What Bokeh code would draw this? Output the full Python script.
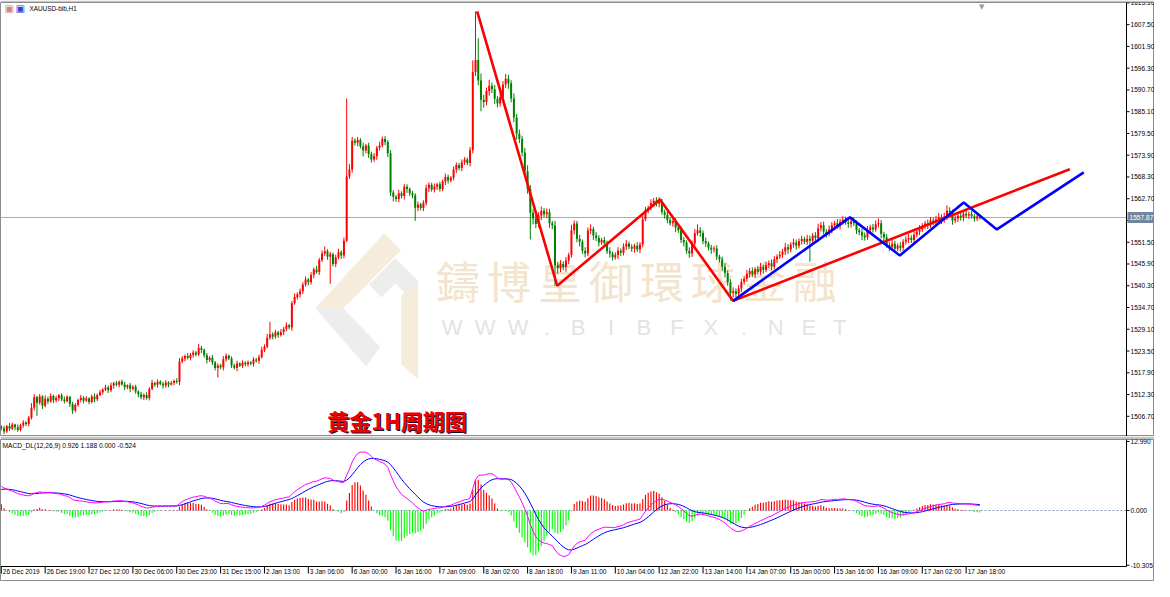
from bokeh.plotting import figure
from bokeh.models import Range1d, Label
from bokeh.layouts import column
from bokeh.core.properties import value
from bokeh.embed import file_html
from bokeh.resources import INLINE

# ---------------- data ----------------
first_open = 1504.0
closes = [
    1503.6, 1502.8, 1504.2, 1503.5, 1504.6, 1503.9, 1503.2, 1504.4, 1505.1, 1504.7,
    1506.3, 1508.9, 1511.6, 1510.2, 1511.8, 1509.4, 1511.2, 1510.5, 1511.9, 1510.8,
    1511.4, 1512.1, 1511.0, 1510.6, 1511.7, 1509.8, 1508.2, 1509.6, 1510.9, 1511.5,
    1510.7, 1511.3, 1510.4, 1511.8, 1511.1, 1512.2, 1512.9, 1513.6, 1514.1, 1513.4,
    1514.6, 1515.2, 1514.8, 1515.6, 1514.9, 1514.2, 1514.7, 1513.8, 1514.3, 1513.1,
    1512.4, 1511.6, 1512.2, 1511.4, 1513.7, 1515.3, 1514.8, 1515.6, 1515.1, 1514.6,
    1515.4, 1514.9, 1515.3, 1515.8, 1515.5, 1520.8, 1521.6, 1522.2, 1521.7, 1522.5,
    1523.1, 1522.6, 1524.3, 1523.8, 1522.4, 1521.2, 1521.8, 1520.6, 1519.1, 1519.8,
    1519.3, 1521.4, 1522.3, 1521.6, 1519.8, 1519.2, 1520.3, 1519.7, 1520.5, 1520.1,
    1520.6, 1520.2, 1521.3, 1521.0, 1521.9, 1523.8, 1524.6, 1526.9, 1527.8, 1527.2,
    1528.3, 1527.6, 1528.4, 1529.2, 1530.1, 1529.6, 1535.8, 1537.4, 1538.1, 1538.9,
    1540.6, 1541.9, 1541.2, 1543.1, 1544.5, 1543.8, 1546.9, 1548.6, 1549.2, 1547.8,
    1548.4, 1545.9, 1547.6, 1548.9, 1548.1, 1551.9, 1568.4, 1570.2, 1577.6, 1577.1,
    1577.8, 1576.2, 1575.1, 1576.4, 1574.2, 1572.8, 1573.6, 1575.8, 1576.4, 1578.1,
    1577.3, 1574.4, 1564.3, 1563.2, 1562.6, 1564.1, 1563.4, 1565.8, 1565.2, 1564.1,
    1563.6, 1560.4, 1561.2, 1560.3, 1561.6, 1565.4, 1566.3, 1565.1, 1565.8, 1566.4,
    1565.2, 1567.1, 1568.3, 1567.4, 1568.1, 1570.2, 1571.4, 1570.6, 1572.1, 1572.8,
    1571.9, 1575.2, 1595.3, 1598.4, 1593.1, 1588.2, 1587.6, 1590.4, 1591.8, 1590.9,
    1588.4, 1587.2, 1588.9, 1592.1, 1593.6, 1592.4, 1588.5, 1583.6, 1579.4, 1578.1,
    1574.6, 1569.8, 1565.2, 1559.1, 1557.6, 1556.2, 1558.4, 1559.6, 1558.7, 1559.2,
    1556.4, 1555.8, 1545.6, 1544.8, 1545.9, 1545.1, 1546.8, 1548.2, 1554.6, 1556.3,
    1552.4, 1551.6, 1549.3, 1548.6, 1554.5, 1554.9, 1553.2, 1552.6, 1551.4, 1552.1,
    1551.3, 1549.2, 1548.6, 1547.6, 1548.2, 1549.3, 1548.8, 1550.4, 1551.1, 1550.3,
    1549.8, 1550.6, 1549.6, 1550.9, 1557.4, 1559.8, 1560.3, 1561.6, 1562.2, 1561.4,
    1561.9, 1559.3, 1558.6, 1557.2, 1556.4, 1556.9, 1555.3, 1554.6, 1552.1, 1551.4,
    1549.3, 1548.6, 1551.2, 1553.8, 1554.6, 1553.9, 1551.8, 1551.2, 1550.1, 1549.6,
    1549.9, 1547.8, 1547.1, 1545.2, 1543.6, 1541.2, 1538.4, 1538.9, 1538.2, 1539.6,
    1541.3, 1542.1, 1543.4, 1544.1, 1543.2, 1544.6, 1543.9, 1545.1, 1544.4, 1545.6,
    1546.1, 1545.2, 1547.1, 1547.8, 1548.3, 1549.1, 1550.2, 1549.6, 1550.9, 1551.4,
    1550.6, 1551.8, 1552.3, 1551.6, 1552.4, 1551.9, 1553.2, 1552.6, 1555.1, 1555.9,
    1554.2, 1553.6, 1554.8, 1555.9, 1556.4, 1555.7, 1556.8, 1557.3, 1556.6, 1556.2,
    1556.9, 1556.4, 1554.6, 1554.1, 1553.2, 1552.8, 1554.6, 1555.3, 1554.8, 1556.1,
    1556.4, 1553.6, 1552.7, 1550.8, 1550.2, 1551.1, 1549.8, 1550.6, 1550.1, 1551.6,
    1552.2, 1552.6, 1552.1, 1553.4, 1554.2, 1554.8, 1555.6, 1556.3, 1555.9, 1557.1,
    1556.8, 1557.4, 1557.9, 1557.2, 1558.1, 1559.6, 1559.2, 1557.1, 1557.6, 1558.3,
    1557.9, 1558.8, 1558.4, 1558.7, 1558.2, 1557.6, 1558.1, 1557.87,
]
# upper / lower wick lengths, in tenths of a dollar
wick_up = [
    4, 6, 3, 8, 5, 2, 7, 4, 6, 3,   5, 12, 8, 4, 6, 3, 9, 5, 7, 4,
    6, 3, 5, 8, 4, 2, 6, 5, 3, 7,   4, 6, 3, 5, 8, 4, 6, 3, 7, 5,
    8, 4, 6, 3, 5, 7, 2, 6, 4, 5,   3, 6, 4, 7, 5, 8, 3, 6, 4, 5,
    6, 3, 5, 4, 7, 9, 6, 4, 8, 5,   6, 4, 10, 5, 3, 6, 4, 7, 3, 5,
    4, 8, 6, 3, 5, 4, 7, 3, 6, 4,   5, 3, 6, 4, 7, 8, 6, 10, 32, 5,
    6, 4, 7, 5, 8, 4, 6, 9, 5, 7,   6, 8, 4, 7, 5, 9, 6, 8, 12, 5,
    6, 4, 7, 9, 5, 8, 201, 14, 10, 6,  8, 5, 9, 4, 7, 6, 8, 5, 10, 6,
    7, 5, 8, 6, 4, 9, 5, 7, 6, 4,   6, 5, 8, 4, 7, 9, 6, 5, 8, 4,
    7, 5, 9, 6, 4, 8, 6, 5, 7, 6,   5, 8, 30, 125, 56, 18, 12, 9, 15, 8,
    11, 7, 14, 9, 12, 10, 8, 13, 9, 11,  8, 12, 15, 10, 9, 14, 8, 11, 7, 10,
    9, 6, 12, 8, 10, 7, 9, 6, 14, 8,   7, 10, 6, 9, 8, 12, 6, 9, 7, 5,
    8, 6, 10, 5, 7, 9, 6, 8, 10, 6,   7, 5, 9, 6, 12, 8, 6, 10, 7, 9,
    12, 8, 6, 9, 7, 5, 8, 6, 10, 7,   6, 9, 7, 11, 15, 8, 6, 9, 5, 7,
    6, 8, 5, 7, 9, 6, 8, 10, 7, 9,   8, 6, 10, 7, 9, 5, 8, 11, 6, 9,
    7, 10, 8, 6, 9, 7, 11, 8, 6, 10,   8, 7, 9, 6, 10, 8, 7, 9, 12, 8,
    9, 7, 10, 8, 6, 11, 7, 9, 8, 6,   8, 10, 7, 6, 9, 8, 11, 7, 9, 10,
    12, 8, 6, 9, 7, 10, 8, 6, 9, 7,   8, 10, 7, 9, 6, 11, 8, 7, 10, 9,
    7, 9, 11, 8, 10, 14, 9, 7, 8, 10,   9, 8, 10, 7, 9, 6, 8, 5,
]
wick_dn = [
    5, 7, 4, 6, 3, 8, 5, 4, 6, 5,   6, 4, 7, 34, 5, 8, 4, 6, 3, 7,
    5, 8, 4, 6, 3, 7, 9, 5, 4, 6,   7, 3, 6, 4, 8, 5, 3, 6, 4, 7,
    5, 8, 4, 6, 3, 7, 5, 9, 4, 6,   8, 5, 7, 4, 6, 3, 5, 7, 4, 8,
    5, 7, 3, 6, 4, 8, 5, 7, 4, 6,   7, 5, 4, 8, 6, 9, 5, 7, 6, 24,
    5, 8, 6, 4, 7, 5, 9, 3, 6, 5,   6, 4, 7, 5, 8, 3, 6, 4, 5, 7,
    5, 7, 4, 8, 6, 5, 9, 4, 6, 8,   7, 5, 8, 6, 9, 4, 7, 5, 6, 8,
    70, 6, 8, 5, 9, 7, 4, 6, 8, 7,   9, 6, 15, 7, 10, 8, 6, 9, 7, 5,
    8, 10, 9, 12, 7, 8, 6, 9, 10, 7,   8, 34, 9, 6, 8, 7, 10, 6, 8, 9,
    7, 6, 9, 8, 5, 7, 9, 6, 8, 7,   6, 9, 8, 10, 12, 30, 15, 9, 12, 10,
    13, 10, 8, 11, 9, 14, 10, 12, 15, 11,   10, 14, 12, 69, 15, 11, 9, 12, 8, 10,
    12, 9, 53, 14, 10, 8, 12, 9, 7, 11,   9, 12, 8, 10, 7, 9, 11, 8, 10, 6,
    9, 7, 11, 8, 6, 10, 8, 7, 9, 6,   8, 10, 6, 9, 7, 5, 8, 6, 10, 7,
    9, 7, 10, 8, 6, 9, 12, 7, 8, 10,   8, 11, 9, 7, 6, 10, 8, 9, 7, 11,
    7, 9, 8, 10, 12, 9, 19, 11, 8, 7,   9, 7, 8, 10, 6, 9, 7, 8, 10, 6,
    8, 9, 7, 10, 6, 8, 9, 11, 7, 8,   10, 7, 9, 6, 8, 54, 9, 7, 10, 8,
    7, 9, 6, 10, 8, 7, 9, 8, 6, 10,   9, 7, 10, 8, 12, 9, 7, 10, 8, 6,
    8, 11, 9, 7, 10, 8, 9, 6, 10, 8,   7, 9, 8, 10, 6, 9, 7, 8, 10, 7,
    9, 8, 6, 10, 7, 9, 8, 11, 7, 9,   8, 10, 7, 9, 6, 8, 7, 6,
]

bid_price = 1557.87
price_ticks = [1506.7, 1512.3, 1517.9, 1523.5, 1529.1, 1534.7, 1540.3, 1545.9, 1551.5, 1557.1,
               1562.7, 1568.3, 1573.9, 1579.5, 1585.1, 1590.7, 1596.3, 1601.9, 1607.5, 1613.1]
time_tick_bars = [0, 16, 32, 48, 64, 80, 96, 112, 128, 144, 160, 176, 192, 208, 224, 240,
                  256, 272, 288, 304, 320, 336, 352]
time_labels = ["26 Dec 2019", "26 Dec 19:00", "27 Dec 12:00", "30 Dec 06:00", "30 Dec 23:00",
               "31 Dec 15:00", "2 Jan 13:00", "3 Jan 06:00", "6 Jan 00:00", "6 Jan 16:00",
               "7 Jan 09:00", "8 Jan 02:00", "8 Jan 18:00", "9 Jan 11:00", "10 Jan 04:00",
               "12 Jan 22:00", "13 Jan 14:00", "14 Jan 07:00", "15 Jan 00:00", "15 Jan 16:00",
               "16 Jan 09:00", "17 Jan 02:00", "17 Jan 18:00"]
macd_ticks = [12.99, 0.0, -10.305]

# hand-drawn trend lines (bar index, price)
red_bars = [173.6, 202.8, 240.3, 267.0, 389.8]
red_prices = [1610.9, 1540.3, 1562.5, 1536.4, 1570.3]
blue_bars = [267.0, 309.6, 327.8, 351.1, 363.2, 394.9]
blue_prices = [1536.4, 1557.9, 1548.1, 1561.7, 1554.8, 1569.5]

# MACD starting state read from the left edge of the lower pane
ema12_start, ema26_start, signal_start = 1502.4, 1497.6, 3.8

# ---------------- derived series ----------------
n = min(len(closes), len(wick_up), len(wick_dn))
closes = closes[:n]
opens = [first_open] + closes[:-1]
idx = list(range(n))
tops, bots, highs, lows, cols = [], [], [], [], []
for o, c, wu, wd in zip(opens, closes, wick_up[:n], wick_dn[:n]):
    t, b = max(o, c), min(o, c)
    if t - b < 0.15:
        t = b + 0.15
    tops.append(t); bots.append(b)
    highs.append(t + wu / 10.0); lows.append(b - wd / 10.0)
    cols.append("#ff0000" if c >= o else "#008000")

a12, a26, a9 = 2 / 13, 2 / 27, 2 / 10
e12, e26, sig = ema12_start, ema26_start, signal_start
dif, dea, hist = [], [], []
for c in closes:
    e12 += a12 * (c - e12)
    e26 += a26 * (c - e26)
    d = e12 - e26
    sig += a9 * (d - sig)
    dif.append(d); dea.append(sig); hist.append(2 * (d - sig))
hist_cols = ["#ff0000" if h >= 0 else "#00ff00" for h in hist]

# ---------------- layout constants ----------------
W = 1154
CHART_W = 1126                     # width of the price area; the price scale sits right of it
X_START, X_END = -0.3, 410.5
BAR_PX = CHART_W / (X_END - X_START)
X_FULL = X_START + W / BAR_PX
MAIN_H = 436
MAIN_TOP = 2
P_LOW, P_HIGH = 1501.5, 1613.2
P_UNIT = (P_HIGH - P_LOW) / (MAIN_H - MAIN_TOP)
M_H = 145
M_TOP = 3
M_LOW, M_HIGH = -10.55, 13.36
M_PX = 127.0
M_UNIT = (M_HIGH - M_LOW) / M_PX
M_BOTTOM = M_HIGH - (M_H - M_TOP) * M_UNIT   # leaves room for the time scale

def bx(px):   # reference-picture x pixel -> bar index
    return X_START + (px - 3.0) * (X_END - X_START) / 1127.0
def py(px):   # reference-picture y pixel -> price
    return P_HIGH - (px - 3.0) * (P_HIGH - P_LOW) / 440.0

FONT = "Liberation Sans"
SCALE_FONT = "6.6px"

def price_scale(fig, ticks, labels, y_low, y_high):
    k = len(ticks)
    fig.segment([X_END], [y_low], [X_END], [y_high], line_color="black", line_width=1)
    fig.segment([X_END] * k, ticks, [X_END + 3 / BAR_PX] * k, ticks,
                line_color="black", line_width=1)
    fig.text([X_END + 4 / BAR_PX] * k, ticks, text=labels, text_font=value(FONT),
             text_font_size=SCALE_FONT, text_color="black", text_align="left",
             text_baseline="middle")

# ---------------- main pane ----------------
p = figure(width=W, height=MAIN_H, x_range=Range1d(X_START, X_FULL), y_range=Range1d(P_LOW, P_HIGH),
           output_backend="svg", toolbar_location=None, x_axis_location=None,
           y_axis_location=None, min_border_left=0, min_border_right=0,
           min_border_top=MAIN_TOP, min_border_bottom=0)
p.grid.visible = False
p.outline_line_color = "#8c8c8c"
p.border_fill_color = "#c4c4c4"

# watermark logo (background decoration)
beige = "#f6ecdc"
greyw = "#ededed"
logo_polys = [
    ([318, 387, 404, 346], [313, 237, 254, 313], beige),
    ([318, 346, 383, 369], [313, 313, 352, 372], greyw),
    ([372, 398, 421, 421, 398, 384], [289, 262, 285, 310, 288, 302], greyw),
    ([404, 421, 421, 404], [300, 285, 385, 370], beige),
]
p.patches([[bx(v) for v in xs] for xs, ys, c in logo_polys],
          [[py(v) for v in ys] for xs, ys, c in logo_polys],
          fill_color=[c for xs, ys, c in logo_polys], line_color=None)

wm_chars = list("鑄博皇御環球金融")
wm_px = [461, 512, 563, 614, 665, 716, 767, 818]
p.text([bx(v) for v in wm_px], [py(284)] * len(wm_chars), text=wm_chars,
       text_font=value("Noto Sans CJK TC"), text_font_size="44px", text_color="#f3e4cd",
       text_align="center", text_baseline="middle")
www_chars = list("WWW.BIBFX.NET")
www_px = [455, 488, 521, 550, 581, 614, 647, 680, 714, 747, 779, 812, 843]
p.text([bx(v) for v in www_px], [py(332)] * len(www_chars), text=www_chars,
       text_font=value("Liberation Sans"), text_font_size="22px", text_color="#e3e3e3",
       text_align="center", text_baseline="middle")

# bid line (stops at the price scale)
p.segment([X_START], [bid_price], [X_END], [bid_price], line_color="#a3abb5", line_width=1)

# candles
p.segment(idx, lows, idx, highs, line_color=cols, line_width=1)
p.vbar(x=idx, width=0.72, top=tops, bottom=bots, fill_color=cols, line_color=None)

# trend lines
p.line(red_bars, red_prices, line_color="#ff0000", line_width=2.6)
p.line(blue_bars, blue_prices, line_color="#0000ff", line_width=2.6)

# price scale with the bid box
price_scale(p, price_ticks, ["%.2f" % t for t in price_ticks], P_LOW, P_HIGH)
p.quad(left=[X_END + 1 / BAR_PX], right=[X_END + 30 / BAR_PX],
       bottom=[bid_price - 5.5 * P_UNIT], top=[bid_price + 5.5 * P_UNIT],
       fill_color="#7286a0", line_color=None)
p.text([X_END + 3 / BAR_PX], [bid_price], text=["%.2f" % bid_price], text_font=value(FONT),
       text_font_size=SCALE_FONT, text_color="white", text_align="left", text_baseline="middle")

# texts
p.add_layout(Label(x=bx(32), y=py(9), text="XAUUSD-bib,H1", text_font=FONT,
                   text_font_size="6.4px", text_color="black", text_baseline="middle"))
p.add_layout(Label(x=bx(7), y=py(9), text="\u25a3", text_font="DejaVu Sans",
                   text_font_size="10px", text_color="#d08080", text_baseline="middle"))
p.add_layout(Label(x=bx(18), y=py(9), text="\u25a3", text_font="DejaVu Sans",
                   text_font_size="10px", text_color="#3040d0", text_baseline="middle"))
p.add_layout(Label(x=bx(985), y=P_HIGH, text="\u25bc", text_font="DejaVu Sans",
                   text_font_size="7px", text_color="#9a9a9a", text_align="center",
                   text_baseline="top"))
p.add_layout(Label(x=bx(330), y=py(426), text="黄金1H周期图", text_font="Noto Sans CJK SC",
                   text_font_style="bold", text_font_size="22px", text_color="#101030",
                   text_baseline="middle", x_offset=1.2, y_offset=-1.2))
p.add_layout(Label(x=bx(330), y=py(426), text="黄金1H周期图", text_font="Noto Sans CJK SC",
                   text_font_style="bold", text_font_size="22px", text_color="#f00000",
                   text_baseline="middle"))

# ---------------- MACD pane (time scale drawn inside its frame) ----------------
m = figure(width=W, height=M_H, x_range=p.x_range, y_range=Range1d(M_BOTTOM, M_HIGH),
           output_backend="svg", toolbar_location=None, y_axis_location=None,
           x_axis_location=None, min_border_left=0, min_border_right=0,
           min_border_top=M_TOP, min_border_bottom=0)
m.grid.visible = False
m.outline_line_color = "#8c8c8c"
m.border_fill_color = "#c4c4c4"

m.segment([X_START], [0], [X_END], [0], line_color="#7f93ad", line_width=1, line_dash="2 2")
m.vbar(x=idx, width=0.42, top=hist, bottom=0, fill_color=hist_cols, line_color=None)
m.line(idx, dea, line_color="#0000ff", line_width=1)
m.line(idx, dif, line_color="#ff00ff", line_width=1)
m.add_layout(Label(x=bx(5), y=M_HIGH - 2 * M_UNIT, text="MACD_DL(12,26,9) 0.926 1.188 0.000 -0.524",
                   text_font=FONT, text_font_size="6.6px", text_color="black",
                   text_baseline="top"))
price_scale(m, macd_ticks, ["%.3f" % t for t in macd_ticks], M_LOW, M_HIGH)

# time scale
m.segment([X_START], [M_LOW], [X_END], [M_LOW], line_color="black", line_width=1)
m.segment(time_tick_bars, [M_LOW] * len(time_tick_bars), time_tick_bars,
          [M_LOW - 7 * M_UNIT] * len(time_tick_bars), line_color="black", line_width=1)
m.text([b + 1.5 / BAR_PX for b in time_tick_bars], [M_LOW - 1.5 * M_UNIT] * len(time_tick_bars),
       text=time_labels, text_font=value(FONT), text_font_size="6.5px", text_color="black",
       text_align="left", text_baseline="top")

layout = column(p, m)
open("out.html", "w").write(file_html(layout, INLINE))
